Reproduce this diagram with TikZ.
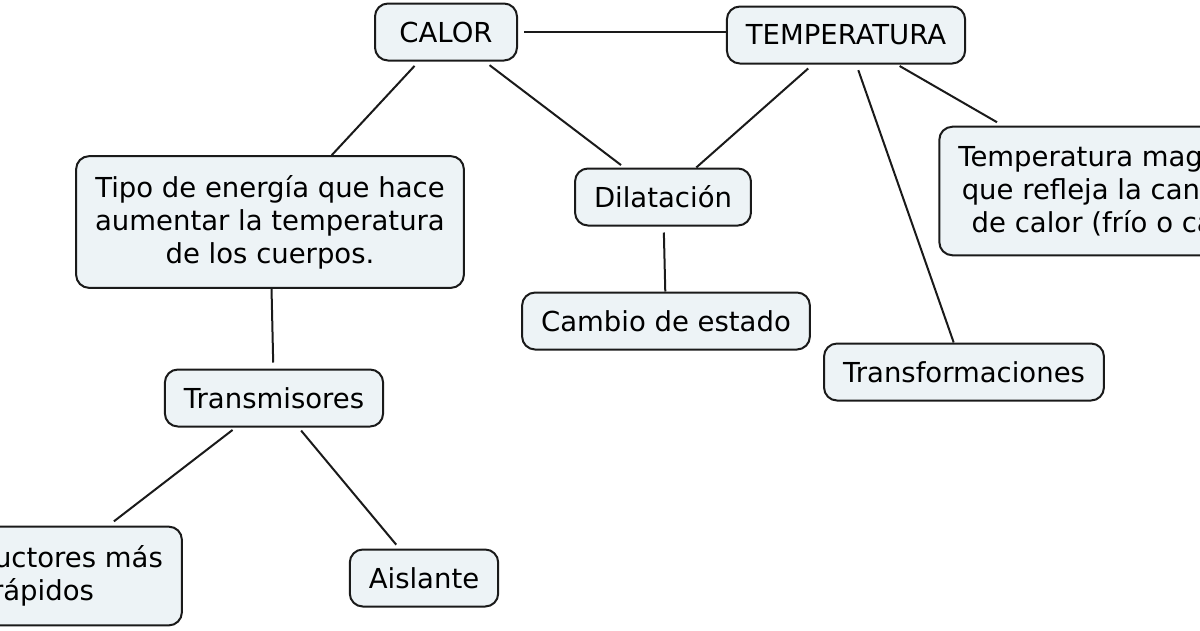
\documentclass[tikz,border=0pt]{standalone}
\usepackage{fontspec}
\setmainfont{DejaVu Sans}
\usepackage{tikz}
\usetikzlibrary{positioning}
\definecolor{boxfill}{HTML}{EDF3F6}
\definecolor{boxline}{HTML}{1A1A1A}

\begin{document}
\begin{tikzpicture}[x=1pt,y=-1pt,
    concept/.style={draw=boxline,line width=2pt,fill=boxfill,rounded corners=13pt,
      align=center,inner xsep=19pt,inner ysep=15pt,minimum height=57pt,
      font=\fontsize{27.5}{33}\selectfont},
    tallbox/.style={concept,inner ysep=19pt},
    link/.style={draw=boxline,line width=2pt}]
        \useasboundingbox (0,0) rectangle (1200,630);
        \clip (0,0) rectangle (1200,630);
        \node[concept,minimum width=142pt] (calor) at (446,32) {CALOR};
        \node[concept] (temp) at (846,35) {TEMPERATURA};
        \node[tallbox] (tipo) at (270,222) {Tipo de energía que hace\\aumentar la temperatura\\de los cuerpos.};
        \node[concept] (dilat) at (663,197) {Dilatación};
        \node[concept] (cambio) at (666,321) {Cambio de estado};
        \node[tallbox] (magn) at (1116,191) {Temperatura magnitud\\que refleja la cantidad\\de calor (frío o calor)};
        \node[concept] (transf) at (964,372) {Transformaciones};
        \node[concept] (transm) at (274,398) {Transmisores};
        \node[tallbox] (conduc) at (43,576) {Conductores más\\rápidos};
        \node[concept] (aisl) at (424,578) {Aislante};
        \draw[link,shorten <=6pt] (calor.east) -- (temp.west|-calor.east);
        \draw[link,shorten <=6pt] (calor) -- (tipo);
        \draw[link,shorten <=6pt,shorten >=4pt] (calor) -- (dilat);
        \draw[link,shorten <=6pt] (temp) -- (dilat);
        \draw[link,shorten <=6pt] (temp) -- (transf);
        \draw[link,shorten <=3pt,shorten >=7pt] (temp) -- (magn);
        \draw[link,shorten <=6pt] (dilat) -- (cambio);
        \draw[link,shorten >=6pt] (tipo) -- (transm);
        \draw[link,shorten <=4pt,shorten >=7pt] (transm) -- (conduc);
        \draw[link,shorten <=4pt,shorten >=5pt] (transm) -- (aisl);
      \end{tikzpicture}
\end{document}
